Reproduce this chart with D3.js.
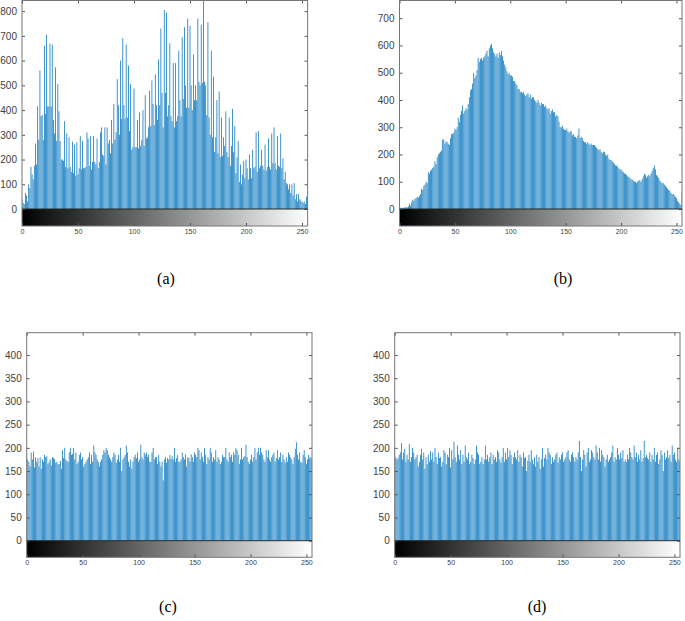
<!DOCTYPE html>
<html>
<head>
<meta charset="utf-8">
<script src="https://cdn.jsdelivr.net/npm/d3@7"></script>
<style>
  body { margin: 0; background: #fff; }
  svg { display: block; }
</style>
</head>
<body>
<script>
// histogramvärden, 256 gråvärden per bild
var binsA = [
  40, 25, 20, 65, 55, 30, 100, 85, 170, 140, 120, 175, 265, 180, 415, 280,
  560, 375, 380, 280, 660, 385, 705, 415, 415, 668, 415, 665, 360, 305, 573, 275,
  505, 395, 275, 200, 200, 195, 355, 170, 305, 165, 290, 170, 150, 272, 145, 260,
  135, 270, 140, 165, 295, 160, 275, 165, 165, 170, 310, 285, 175, 295, 160, 190,
  295, 190, 180, 285, 165, 190, 310, 330, 220, 215, 330, 180, 330, 265, 280, 225,
  360, 265, 425, 280, 310, 525, 420, 300, 600, 365, 690, 420, 365, 665, 370, 580,
  315, 505, 240, 250, 487, 250, 250, 360, 245, 390, 255, 280, 400, 255, 460, 285,
  290, 330, 478, 335, 520, 425, 340, 545, 420, 360, 605, 420, 730, 470, 330, 805,
  470, 795, 375, 420, 670, 375, 355, 590, 330, 590, 355, 375, 640, 440, 375, 695,
  445, 735, 500, 410, 770, 410, 740, 500, 400, 625, 440, 500, 440, 770, 515, 500,
  745, 510, 870, 515, 500, 380, 755, 370, 300, 640, 290, 535, 230, 290, 440, 225,
  475, 210, 370, 215, 290, 255, 395, 230, 210, 370, 175, 255, 405, 230, 335, 145,
  210, 275, 110, 180, 100, 140, 195, 125, 200, 165, 120, 220, 165, 125, 240, 165,
  170, 310, 150, 315, 165, 175, 240, 175, 160, 260, 155, 170, 285, 170, 160, 305,
  185, 330, 185, 160, 295, 175, 170, 305, 165, 205, 120, 150, 105, 100, 80, 100,
  65, 100, 55, 105, 40, 60, 30, 60, 40, 35, 30, 25, 30, 20, 50, 50
];
var binsB = [
  280, 5, 3, 4, 6, 5, 8, 6, 10, 20, 12, 25, 35, 30, 38, 40,
  45, 42, 48, 55, 75, 70, 85, 90, 100, 95, 135, 130, 140, 145, 150, 155,
  175, 165, 190, 200, 205, 210, 215, 255, 255, 240, 248, 245, 240, 235, 260, 275,
  275, 280, 295, 290, 300, 335, 320, 345, 360, 380, 350, 360, 370, 365, 385, 410,
  435, 440, 460, 500, 480, 490, 510, 555, 540, 550, 555, 545, 555, 560, 570, 580,
  560, 590, 600, 605, 590, 575, 570, 560, 570, 555, 575, 565, 580, 560, 545, 530,
  520, 505, 495, 500, 490, 490, 485, 470, 470, 460, 455, 440, 440, 430, 430, 425,
  430, 420, 415, 420, 425, 410, 420, 405, 410, 410, 400, 395, 390, 400, 390, 380,
  390, 385, 385, 375, 380, 370, 365, 370, 350, 360, 365, 355, 355, 340, 345, 340,
  320, 300, 300, 305, 295, 290, 290, 295, 285, 280, 285, 285, 270, 275, 265, 265,
  260, 270, 295, 260, 265, 260, 250, 245, 245, 240, 245, 240, 235, 240, 235, 235,
  235, 230, 225, 220, 215, 220, 210, 205, 210, 210, 200, 195, 200, 185, 180, 180,
  175, 170, 165, 160, 160, 155, 150, 145, 145, 140, 135, 130, 130, 125, 120, 118,
  115, 110, 108, 105, 100, 100, 95, 100, 105, 105, 100, 110, 120, 130, 125, 115,
  120, 125, 120, 130, 140, 150, 160, 145, 125, 120, 115, 105, 100, 95, 95, 90,
  85, 80, 75, 70, 68, 60, 55, 55, 50, 45, 40, 30, 25, 20, 15, 60
];
var binsC = [
  188, 175, 170, 160, 190, 175, 192, 158, 180, 170, 178, 160, 180, 155, 175, 170,
  185, 180, 182, 165, 170, 175, 162, 180, 178, 176, 168, 170, 165, 165, 172, 155,
  195, 178, 200, 175, 172, 170, 190, 200, 185, 187, 200, 175, 190, 165, 170, 185,
  190, 175, 180, 160, 165, 170, 175, 180, 190, 165, 185, 170, 205, 190, 185, 175,
  170, 160, 170, 175, 185, 195, 190, 200, 195, 185, 180, 175, 170, 180, 190, 185,
  168, 175, 185, 170, 200, 150, 175, 180, 185, 205, 190, 170, 160, 175, 155, 170,
  180, 185, 178, 190, 170, 175, 207, 180, 175, 190, 185, 190, 180, 185, 170, 170,
  190, 200, 175, 180, 180, 165, 185, 170, 160, 170, 130, 175, 180, 168, 178, 175,
  185, 176, 182, 175, 200, 170, 178, 185, 170, 170, 175, 190, 180, 175, 186, 160,
  180, 178, 170, 186, 180, 170, 190, 185, 180, 200, 195, 175, 190, 180, 170, 200,
  185, 165, 180, 175, 200, 190, 170, 180, 175, 195, 170, 180, 175, 165, 170, 185,
  180, 180, 200, 175, 170, 190, 180, 185, 170, 190, 185, 200, 195, 185, 165, 175,
  200, 175, 180, 182, 207, 180, 170, 165, 175, 185, 170, 180, 200, 175, 190, 200,
  185, 200, 190, 185, 175, 170, 195, 180, 195, 175, 170, 180, 185, 190, 170, 178,
  195, 175, 180, 190, 170, 185, 175, 168, 180, 170, 190, 185, 180, 175, 165, 180,
  198, 212, 185, 175, 190, 170, 168, 185, 195, 180, 165, 175, 185, 178, 180, 175
];
var binsD = [
  195, 180, 175, 178, 185, 190, 210, 175, 190, 198, 170, 185, 175, 208, 170, 180,
  200, 190, 175, 180, 185, 160, 170, 185, 198, 175, 190, 155, 180, 165, 185, 170,
  193, 175, 190, 170, 200, 180, 165, 190, 178, 180, 160, 170, 195, 190, 165, 185,
  180, 200, 158, 195, 175, 213, 180, 170, 205, 185, 175, 195, 165, 185, 170, 205,
  180, 175, 190, 165, 170, 185, 178, 165, 175, 205, 190, 185, 165, 170, 180, 165,
  175, 205, 175, 185, 170, 180, 190, 165, 185, 175, 180, 170, 195, 190, 175, 168,
  180, 200, 170, 190, 175, 200, 180, 195, 185, 165, 180, 190, 180, 175, 195, 170,
  185, 180, 160, 190, 178, 180, 150, 172, 185, 170, 195, 175, 165, 180, 160, 185,
  170, 180, 155, 175, 200, 160, 178, 185, 175, 200, 190, 185, 165, 180, 170, 175,
  185, 190, 168, 180, 175, 185, 190, 170, 175, 180, 190, 195, 175, 170, 185, 190,
  180, 170, 180, 175, 190, 215, 180, 150, 175, 195, 185, 160, 190, 200, 170, 175,
  195, 190, 180, 175, 205, 190, 175, 200, 170, 195, 185, 180, 160, 175, 185, 170,
  175, 180, 190, 205, 170, 180, 175, 200, 185, 175, 190, 178, 195, 170, 175, 170,
  185, 175, 200, 190, 180, 175, 205, 180, 190, 170, 185, 175, 195, 170, 178, 215,
  180, 185, 178, 175, 190, 170, 185, 175, 200, 170, 185, 190, 165, 175, 195, 185,
  150, 190, 175, 180, 195, 178, 185, 170, 205, 185, 190, 175, 170, 200, 175, 170
];

// axlar och etiketter
var xTicks = [0, 50, 100, 150, 200, 250];
var yTicksA = [0, 100, 200, 300, 400, 500, 600, 700, 800];
var yTicksB = [0, 100, 200, 300, 400, 500, 600, 700];
var yTicksCD = [0, 50, 100, 150, 200, 250, 300, 350, 400];
var panelLabels = ['(a)', '(b)', '(c)', '(d)'];

var width = 685, height = 621;

var svg = d3.select('body').append('svg')
  .attr('width', width)
  .attr('height', height);

// gråskala för färgfältet under histogrammet
var grad = svg.append('defs').append('linearGradient')
  .attr('id', 'gray')
  .attr('x1', '0%').attr('x2', '100%');
grad.append('stop').attr('offset', '0%').attr('stop-color', '#000');
grad.append('stop').attr('offset', '100%').attr('stop-color', '#fff');

function drawHist(id, values, yTicks, yMax, left, right, top, zero, cbBottom) {
  var x = d3.scaleLinear().domain([0, 255]).range([left, right]);
  var y = d3.scaleLinear().domain([0, yMax]).range([zero, top]);
  var g = svg.append('g');

  g.append('clipPath').attr('id', 'clip' + id)
    .append('rect')
    .attr('x', left).attr('y', top)
    .attr('width', right - left).attr('height', zero - top);

  var bw = 0.75;
  g.append('g').attr('clip-path', 'url(#clip' + id + ')')
    .selectAll('rect').data(values)
    .enter().append('rect')
    .attr('x', function(d, i) { return x(i) - bw / 2; })
    .attr('y', function(d) { return y(d); })
    .attr('width', bw)
    .attr('height', function(d) { return zero - y(d); })
    .attr('fill', '#0072BD');

  // färgfält
  g.append('rect')
    .attr('x', left).attr('y', zero)
    .attr('width', right - left).attr('height', cbBottom - zero)
    .attr('fill', 'url(#gray)');

  // y-axlar, ticks inåt
  var yAxisL = g.append('g').attr('transform', 'translate(' + left + ',0)')
    .call(d3.axisLeft(y).tickValues(yTicks).tickSize(-3).tickPadding(5));
  var yAxisR = g.append('g').attr('transform', 'translate(' + right + ',0)')
    .call(d3.axisRight(y).tickValues(yTicks).tickSize(-3).tickFormat(''));
  var xAxisT = g.append('g').attr('transform', 'translate(0,' + top + ')')
    .call(d3.axisTop(x).tickValues(xTicks).tickSize(-3).tickFormat(''));
  var xAxisB = g.append('g').attr('transform', 'translate(0,' + cbBottom + ')')
    .call(d3.axisBottom(x).tickValues(xTicks).tickSize(-3).tickPadding(3));

  [yAxisL, yAxisR, xAxisT, xAxisB].forEach(function(a) {
    a.select('.domain').remove();
    a.selectAll('line').attr('stroke', '#555');
  });
  yAxisL.selectAll('text')
    .attr('font-family', 'Liberation Sans, Arial, sans-serif')
    .attr('font-size', 10).attr('fill', '#404040');
  xAxisB.selectAll('text')
    .attr('font-family', 'Liberation Sans, Arial, sans-serif')
    .attr('font-size', 7).attr('fill', '#404040');

  // ram och nollinje
  g.append('rect')
    .attr('x', left).attr('y', top)
    .attr('width', right - left).attr('height', cbBottom - top)
    .attr('fill', 'none').attr('stroke', '#777').attr('stroke-width', 1);
  g.append('line')
    .attr('x1', left).attr('x2', right)
    .attr('y1', zero).attr('y2', zero)
    .attr('stroke', '#262626').attr('stroke-width', 1);
}

drawHist('a', binsA, yTicksA, 843, 22, 307.6, 0.5, 209, 226);
drawHist('b', binsB, yTicksB, 765, 399.5, 682, 0.5, 209, 226);
drawHist('c', binsC, yTicksCD, 448, 26.7, 312, 332.7, 540.7, 557.3);
drawHist('d', binsD, yTicksCD, 448, 394.7, 680, 332.7, 540.7, 557.3);

// panelbeteckningar
var labelPos = [[166, 280], [563, 280], [168, 608], [537, 608]];
svg.selectAll('.plabel').data(panelLabels)
  .enter().append('text')
  .attr('class', 'plabel')
  .attr('x', function(d, i) { return labelPos[i][0]; })
  .attr('y', function(d, i) { return labelPos[i][1]; })
  .attr('text-anchor', 'middle')
  .attr('dominant-baseline', 'middle')
  .attr('font-family', 'Liberation Serif, Times New Roman, serif')
  .attr('font-size', 16)
  .attr('fill', '#000')
  .text(function(d) { return d; });
</script>
</body>
</html>
